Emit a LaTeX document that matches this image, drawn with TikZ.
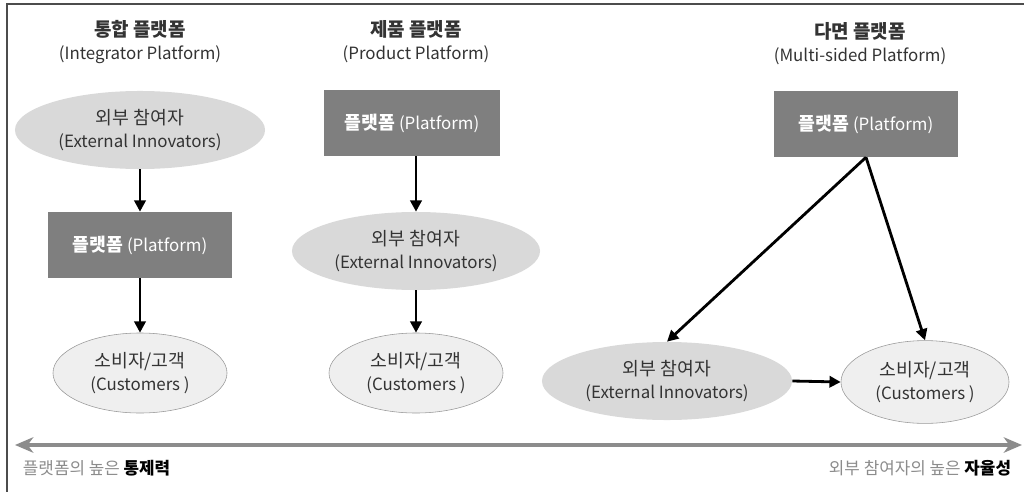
\documentclass[tikz,border=0pt]{standalone}
\usepackage{fontspec}
\setmainfont{Noto Sans CJK KR}
\usepackage{tikz}
\usetikzlibrary{shapes.geometric,arrows.meta,positioning}

\definecolor{platgray}{HTML}{7F7F7F}
\definecolor{extgray}{HTML}{D9D9D9}
\definecolor{custgray}{HTML}{EFEFEF}
\definecolor{axisgray}{HTML}{8C8C8C}

% Korean lines a bit larger than the Latin ones
\newcommand{\kr}[1]{{\fontsize{13}{16}\selectfont #1}}

\begin{document}
\begin{tikzpicture}[
    x=0.025cm, y=-0.025cm,
    every node/.style={font=\fontsize{12}{16}\selectfont, text=black!80},
    title/.style={align=center, font=\fontsize{12}{16.5}\selectfont},
    platbox/.style={rectangle, fill=platgray, minimum width=4.6cm, minimum height=1.65cm, text=white, inner sep=0pt},
    extnode/.style={ellipse, fill=extgray, minimum width=6.25cm, minimum height=1.95cm, align=center, inner sep=0pt},
    custnode/.style={ellipse, draw=black!40, fill=custgray, minimum width=4.35cm, minimum height=2cm, align=center, inner sep=0pt},
    arrow/.style={-{Triangle[length=8pt,width=8pt]}, line width=2pt, black},
    axis/.style={{Stealth[length=13pt,width=11pt,inset=4pt]}-{Stealth[length=13pt,width=11pt,inset=4pt]}, line width=3pt, axisgray}
]
    \useasboundingbox (0,0) rectangle (1024,492);

    % frame
    \draw[black!70, line width=0.8pt] (7,492) -- (7,4) -- (1024,4);

    % Integrator platform
    \node[title] (t1) at (140,42) {{\fontsize{13.5}{16}\selectfont\textbf{통합 플랫폼}}\\(Integrator Platform)};
    \node[extnode] (ext1) at (140,130) {\kr{외부 참여자}\\(External Innovators)};
    \node[platbox] (plat1) at (140,245) {\kr{\textbf{플랫폼}} (Platform)};
    \node[custnode] (cust1) at (140,373) {\kr{소비자/고객}\\(Customers )};

    \draw[arrow] (ext1.south) -- (plat1.north);
    \draw[arrow] (plat1.south) -- (cust1.north);

    % Product platform
    \node[title] (t2) at (416,42) {{\fontsize{13.5}{16}\selectfont\textbf{제품 플랫폼}}\\(Product Platform)};
    \node[platbox, minimum width=4.4cm] (plat2) at (412,123) {\kr{\textbf{플랫폼}} (Platform)};
    \node[extnode, minimum width=6.2cm] (ext2) at (416,251) {\kr{외부 참여자}\\(External Innovators)};
    \node[custnode] (cust2) at (416,373) {\kr{소비자/고객}\\(Customers )};

    \draw[arrow] (plat2.south -| ext2.north) -- (ext2.north);
    \draw[arrow] (ext2.south) -- (cust2.north);

    % Multi-sided platform
    \node[title] (t3) at (860,44) {{\fontsize{13.5}{16}\selectfont\textbf{다면 플랫폼}}\\(Multi-sided Platform)};
    \node[platbox] (plat3) at (866,124) {\kr{\textbf{플랫폼}} (Platform)};
    \node[extnode] (ext3) at (667,381) {\kr{외부 참여자}\\(External Innovators)};
    \node[custnode, minimum width=4.2cm, minimum height=2.07cm] (cust3) at (925,382) {\kr{소비자/고객}\\(Customers )};

    \draw[arrow] (plat3.south) -- (ext3.north);
    \draw[arrow] (plat3.south) -- (cust3.north);
    \draw[arrow] (ext3.east) -- (cust3.west);

    % control vs autonomy axis
    \coordinate (lo) at (15,445);
    \coordinate (hi) at (1022,445);
    \draw[axis] (lo) -- (hi);
    \node[anchor=west, text=axisgray] (ctrl) at (18,468) {플랫폼의 높은 \textcolor{black}{\textbf{통제력}}};
    \node[anchor=east, text=axisgray] (auto) at (1016,468) {외부 참여자의 높은 \textcolor{black}{\textbf{자율성}}};
\end{tikzpicture}
\end{document}
